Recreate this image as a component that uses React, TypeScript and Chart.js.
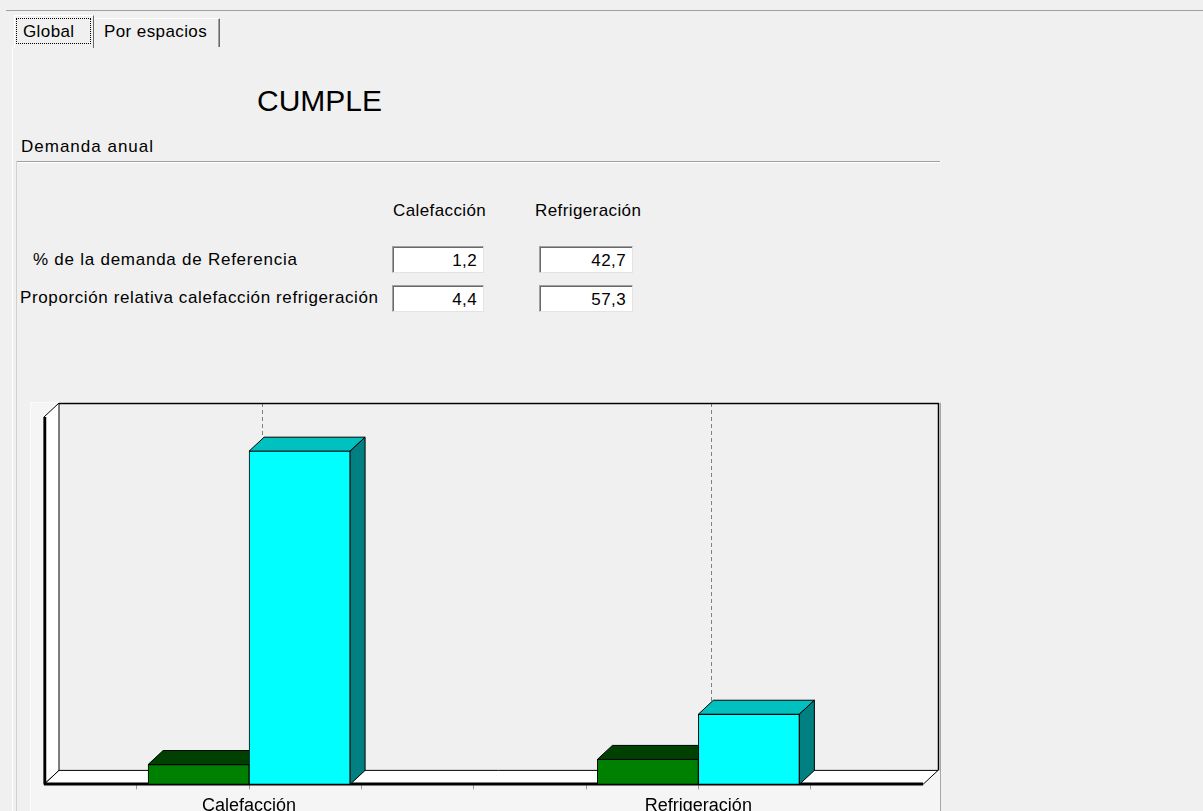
import React, { useEffect, useRef } from "react";
import { Chart, registerables } from "chart.js";

Chart.register(...registerables);

// Categories and their positions on the horizontal (linear) axis
const categories = ["Calefacción", "Refrigeración"];
const categoryPositions = [1, 3];
const tickPositions = [0.5, 1, 1.5, 2, 2.5, 3, 3.5];

// Bar heights (relative scale 0-100)
const objetoValues = [5.4, 6.8];
const referenciaValues = [90.7, 19.1];

// Values shown in the edit boxes
const pctReferencia = ["1,2", "42,7"];
const proporcionRelativa = ["4,4", "57,3"];

const FONT = "'Liberation Sans', Arial, Helvetica, sans-serif";
const DX = 15;
const DY = 14;

type Face = { front: string; top: string; side: string };
const faces: Face[] = [
  { front: "#008000", top: "#004000", side: "#004000" },
  { front: "#00ffff", top: "#00c0c0", side: "#008080" },
];

const poly = (ctx: CanvasRenderingContext2D, pts: number[][], fill: string | null, stroke: string | null, lw = 1) => {
  ctx.beginPath();
  ctx.moveTo(pts[0][0], pts[0][1]);
  for (let i = 1; i < pts.length; i++) ctx.lineTo(pts[i][0], pts[i][1]);
  ctx.closePath();
  if (fill) {
    ctx.fillStyle = fill;
    ctx.fill();
  }
  if (stroke) {
    ctx.strokeStyle = stroke;
    ctx.lineWidth = lw;
    ctx.stroke();
  }
};

const line = (ctx: CanvasRenderingContext2D, x1: number, y1: number, x2: number, y2: number, color: string, lw: number) => {
  ctx.beginPath();
  ctx.moveTo(x1, y1);
  ctx.lineTo(x2, y2);
  ctx.strokeStyle = color;
  ctx.lineWidth = lw;
  ctx.stroke();
};

// Draws the walls, floor and the depth faces of every bar before the front faces
const box3d = {
  id: "box3d",
  beforeDatasetsDraw(chart: any) {
    const { ctx, chartArea } = chart;
    const { left, right, top, bottom } = chartArea;
    const xScale = chart.scales.x;
    ctx.save();

    // back wall
    ctx.fillStyle = "#f0f0f0";
    ctx.fillRect(left + DX, top - DY, right - left, bottom - top);

    // dashed gridlines on the back wall, behind each category
    ctx.setLineDash([4, 3]);
    categoryPositions.forEach((p) => {
      const x = Math.round(xScale.getPixelForValue(p) + DX - 2) + 0.5;
      line(ctx, x, top - DY, x, bottom - DY, "#808080", 1);
    });
    ctx.setLineDash([]);

    // back wall outline
    ctx.beginPath();
    ctx.moveTo(left + DX, top - DY + 0.5);
    ctx.lineTo(right + DX + 0.5, top - DY + 0.5);
    ctx.lineTo(right + DX + 0.5, bottom - DY);
    ctx.strokeStyle = "#000";
    ctx.lineWidth = 1.5;
    ctx.stroke();

    // left wall
    poly(
      ctx,
      [
        [left, top],
        [left + DX, top - DY],
        [left + DX, bottom - DY],
        [left, bottom],
      ],
      "#ffffff",
      "#000",
      1
    );
    line(ctx, left + 1, top, left + 1, bottom, "#000", 2.5);

    // floor
    poly(
      ctx,
      [
        [left, bottom],
        [right, bottom],
        [right + DX, bottom - DY],
        [left + DX, bottom - DY],
      ],
      "#ffffff",
      "#000",
      1
    );
    line(ctx, left, bottom - 0.5, right, bottom - 0.5, "#000", 3);

    // depth faces of the bars
    chart.data.datasets.forEach((_ds: any, i: number) => {
      const meta = chart.getDatasetMeta(i);
      const f = faces[i];
      meta.data.forEach((bar: any) => {
        const { x, y, base, width } = bar.getProps(["x", "y", "base", "width"], true);
        const l = x - width / 2;
        const r = x + width / 2;
        poly(
          ctx,
          [
            [l, y],
            [r, y],
            [r + DX, y - DY],
            [l + DX, y - DY],
          ],
          f.top,
          "#000",
          1
        );
        poly(
          ctx,
          [
            [r, y],
            [r + DX, y - DY],
            [r + DX, base - DY],
            [r, base],
          ],
          f.side,
          "#000",
          1
        );
      });
    });
    ctx.restore();
  },
};

const text = (s: string, left: number, top: number, size = 17, extra: React.CSSProperties = {}) => (
  <div
    style={{
      position: "absolute",
      left,
      top,
      fontSize: size,
      lineHeight: 1,
      whiteSpace: "nowrap",
      letterSpacing: size < 20 ? "0.4px" : undefined,
      ...extra,
    }}
  >
    {s}
  </div>
);

const EditBox = ({ left, top, width, value }: { left: number; top: number; width: number; value: string }) => (
  <div
    style={{
      position: "absolute",
      left,
      top,
      width,
      height: 27,
      boxSizing: "border-box",
      background: "#fff",
      borderTop: "1px solid #a0a0a0",
      borderLeft: "1px solid #a0a0a0",
      borderRight: "1px solid #e3e3e3",
      borderBottom: "1px solid #e3e3e3",
      boxShadow: "inset 1px 1px 0 #696969",
      fontSize: 17,
      letterSpacing: "0.4px",
      lineHeight: "25px",
      textAlign: "right",
      paddingRight: 6,
      paddingTop: 1,
    }}
  >
    {value}
  </div>
);

export default function App() {
  const canvasRef = useRef<HTMLCanvasElement | null>(null);

  useEffect(() => {
    const canvas = canvasRef.current;
    if (!canvas) return;
    const chart = new Chart(canvas, {
      type: "bar",
      data: {
        datasets: [
          {
            label: "Objeto",
            data: categoryPositions.map((p, i) => ({ x: p, y: objetoValues[i] })),
            backgroundColor: faces[0].front,
            borderColor: "#000",
            borderWidth: 1,
            borderSkipped: false,
          },
          {
            label: "Referencia",
            data: categoryPositions.map((p, i) => ({ x: p, y: referenciaValues[i] })),
            backgroundColor: faces[1].front,
            borderColor: "#000",
            borderWidth: 1,
            borderSkipped: false,
          },
        ],
      },
      options: {
        responsive: false,
        animation: false,
        devicePixelRatio: 1,
        barThickness: 101,
        layout: { padding: { left: 44, right: 37, top: 27, bottom: 7 } },
        plugins: { legend: { display: false }, tooltip: { enabled: false } },
        scales: {
          x: {
            type: "linear",
            offset: false,
            min: 0.087,
            max: 4,
            afterBuildTicks: (scale: any) => {
              scale.ticks = tickPositions.map((v) => ({ value: v }));
            },
            grid: { offset: false, drawOnChartArea: false, drawTicks: true, tickLength: 5, color: "#9a9a9a" },
            border: { display: false },
            ticks: {
              autoSkip: false,
              maxRotation: 0,
              padding: 6,
              color: "#000",
              font: { family: FONT, size: 18 },
              callback: (value: any) => {
                const i = categoryPositions.indexOf(Number(value));
                return i >= 0 ? categories[i] : "";
              },
            },
          },
          y: { display: false, min: 0, max: 100 },
        },
      } as any,
      plugins: [box3d],
    });
    return () => chart.destroy();
  }, []);

  return (
    <div
      style={{
        position: "fixed",
        left: 0,
        top: 0,
        width: 1203,
        height: 811,
        overflow: "hidden",
        background: "#f0f0f0",
        fontFamily: FONT,
        color: "#000",
      }}
    >
      {/* window edge above the tab strip */}
      <div style={{ position: "absolute", left: 6, top: 10, width: 1197, height: 1, background: "#a0a0a0" }} />

      {/* tab panel left border */}
      <div style={{ position: "absolute", left: 12, top: 47, width: 1, height: 764, background: "#ffffff" }} />

      {/* tabs */}
      <div
        style={{
          position: "absolute",
          left: 14,
          top: 15,
          width: 80,
          height: 33,
          boxSizing: "border-box",
          borderLeft: "1px solid #fff",
          borderTop: "1px solid #fff",
          borderRight: "1px solid #696969",
          background: "#f0f0f0",
        }}
      />
      <div
        style={{
          position: "absolute",
          left: 16,
          top: 18,
          width: 75,
          height: 26,
          boxSizing: "border-box",
          border: "1px dotted #000",
        }}
      />
      {text("Global", 23, 23)}
      <div
        style={{
          position: "absolute",
          left: 94,
          top: 18,
          width: 126,
          height: 29,
          boxSizing: "border-box",
          borderTop: "1px solid #fff",
          borderRight: "1px solid #696969",
          boxShadow: "inset -1px 0 0 #a0a0a0",
        }}
      />
      {text("Por espacios", 104, 23)}

      {text("CUMPLE", 257, 86, 30)}

      {text("Demanda anual", 21, 138, 17, { letterSpacing: "1px" })}
      <div style={{ position: "absolute", left: 16, top: 161, width: 924, height: 1, background: "#a0a0a0" }} />
      <div style={{ position: "absolute", left: 17, top: 162, width: 924, height: 1, background: "#ffffff" }} />
      <div style={{ position: "absolute", left: 16, top: 161, width: 1, height: 650, background: "#d0d0d0" }} />

      {text(categories[0], 393, 202)}
      {text(categories[1], 535, 202)}

      {text("% de la demanda de Referencia", 33, 251, 17, { letterSpacing: "0.75px" })}
      {text("Proporción relativa calefacción refrigeración", 20, 289, 17, { letterSpacing: "0.62px" })}

      <EditBox left={392} top={246} width={92} value={pctReferencia[0]} />
      <EditBox left={539} top={246} width={94} value={pctReferencia[1]} />
      <EditBox left={392} top={285} width={92} value={proporcionRelativa[0]} />
      <EditBox left={539} top={285} width={94} value={proporcionRelativa[1]} />

      {/* chart panel */}
      <div
        style={{
          position: "absolute",
          left: 30,
          top: 402,
          width: 911,
          height: 420,
          boxSizing: "border-box",
          background: "#f5f5f5",
          borderLeft: "1px solid #fbfbfb",
          borderTop: "1px solid #fbfbfb",
          borderRight: "1px solid #a8a8a8",
        }}
      />
      <canvas
        ref={canvasRef}
        width={960}
        height={440}
        style={{ position: "absolute", left: 0, top: 390, width: 960, height: 440 }}
      />
    </div>
  );
}
